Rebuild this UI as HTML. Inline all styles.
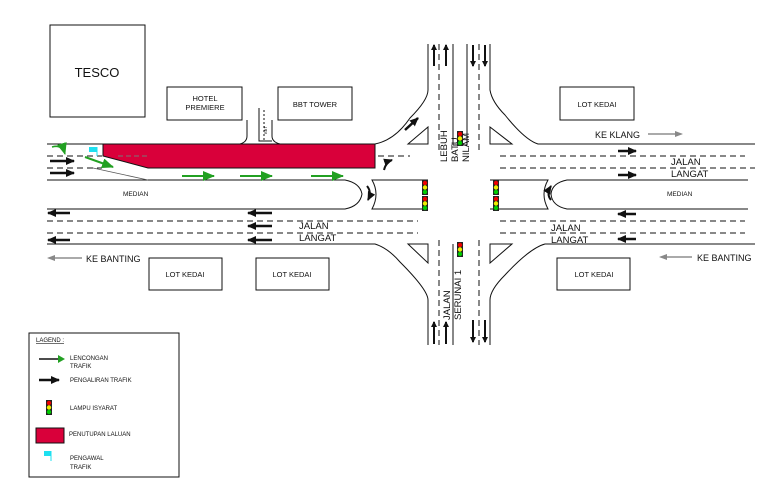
<!DOCTYPE html>
<html><head><meta charset="utf-8"><style>
html,body{margin:0;padding:0;background:#fff}
svg{display:block}
text{font-family:"Liberation Sans",sans-serif;fill:#111}
</style></head><body>
<svg width="765" height="483" viewBox="0 0 765 483" xmlns="http://www.w3.org/2000/svg">
<defs>
<marker id="bh" markerWidth="6" markerHeight="6" refX="5" refY="3" orient="auto" markerUnits="userSpaceOnUse"><path d="M0,0 L6,3 L0,6z" fill="#111"/></marker>
<marker id="gh" markerWidth="12" markerHeight="10" refX="11" refY="5" orient="auto" markerUnits="userSpaceOnUse"><path d="M0,0 L12,5 L0,10z" fill="#22a022"/></marker>
<marker id="bk" markerWidth="9" markerHeight="8" refX="8" refY="4" orient="auto" markerUnits="userSpaceOnUse"><path d="M0,0 L9,4 L0,8z" fill="#111"/></marker>
<marker id="th" markerWidth="8" markerHeight="6" refX="7" refY="3" orient="auto" markerUnits="userSpaceOnUse"><path d="M0,0 L8,3 L0,6z" fill="#888"/></marker>
<g id="tl"><rect x="0" y="0" width="6" height="15" fill="#222"/><circle cx="3" cy="3" r="2.2" fill="#e00"/><circle cx="3" cy="7.5" r="2.2" fill="#ee0"/><circle cx="3" cy="12" r="2.2" fill="#0c0"/></g>
</defs>
<g fill="none" stroke="#111" stroke-width="1">
<!-- buildings -->
<rect x="50" y="25" width="95" height="92"/>
<rect x="167" y="87" width="75" height="33"/>
<rect x="278" y="87" width="74" height="33"/>
<rect x="560" y="87" width="74" height="33"/>
<rect x="149" y="258" width="73" height="32"/>
<rect x="256" y="258" width="73" height="32"/>
<rect x="557" y="258" width="73" height="32"/>
<!-- main road edges -->
<path d="M47,144 H375 Q395,140 410,118 Q428,100 428,90 V44"/>
<path d="M490,44 V90 Q492,102 505,115 Q525,140 538,144 H755"/>
<path d="M47,244 H375 Q388,248 400,262 Q428,290 428,300 V345"/>
<path d="M490,345 V300 Q490,290 505,275 Q530,248 545,244 H755"/>
<!-- side road -->
<path d="M247,120 V136 Q247,142 240,144"/>
<path d="M272,120 V136 Q272,142 280,144"/>
<path d="M259,108 V141 H272"/>
<!-- medians -->
<path d="M47,180 H345 Q360,183 362,194 Q360,206 345,209 H47"/>
<path d="M428,180 H372 Q380,194 372,209 H428"/>
<path d="M490,180 H548 Q540,194 548,209 H490"/>
<path d="M748,180 H567 Q552,183 551,194 Q552,206 567,209 H748"/>
<!-- north road inner lines -->
<path d="M453,44 V145 M467,44 V145 M453,145 H467"/>
<path d="M453,244 V345"/>
<!-- islands -->
<path d="M408,144 L428,127 V144 Z"/>
<path d="M490,127 L512,144 H490 Z"/>
<path d="M408,244 H428 V263 Z"/>
<path d="M490,244 H512 L490,263 Z"/>
<!-- legend box -->
<rect x="29" y="333" width="150" height="144"/>
</g>
<!-- dashed lines -->
<g stroke="#111" stroke-width="1" stroke-dasharray="6,4" fill="none">
<path d="M47,156 H102 M47,168 H102 M378,156 H410"/>
<path d="M500,156 H745 M500,168 H755"/>
<path d="M47,221 H418 M47,233 H418"/>
<path d="M500,221 H745 M500,233 H745"/>
<path d="M439,44 V150 M479,44 V150 M439,240 V345 M479,240 V345"/>
<path d="M264,110 V140" stroke-dasharray="2,2"/>
</g>
<!-- red closure -->
<path d="M103,144 H375 V168 H148 L103,156 Z" fill="#d9003a" stroke="#111" stroke-width="1"/>
<path d="M118,156 H150" stroke="#777" stroke-dasharray="5,3"/>
<path d="M93,168 L148,180" stroke="#555" stroke-width="0.8"/>
<!-- flag -->
<rect x="89" y="147" width="8" height="5" fill="#1ee0f0"/><line x1="97" y1="147" x2="97" y2="156" stroke="#1ee0f0"/>
<!-- green arrows -->
<g stroke="#22a022" stroke-width="2" fill="none">
<path d="M182,176 H214" marker-end="url(#gh)"/>
<path d="M240,176 H272" marker-end="url(#gh)"/>
<path d="M311,176 H343" marker-end="url(#gh)"/>
<path d="M85,157 L113,167" marker-end="url(#gh)"/>
<path d="M52,147 Q62,144 65,154" marker-end="url(#gh)" stroke-width="1.5"/>
</g>
<!-- black arrows -->
<g stroke="#111" stroke-width="2.5" fill="none">
<path d="M50,161 H74" marker-end="url(#bk)"/>
<path d="M50,173 H74" marker-end="url(#bk)"/>
<path d="M70,213 H48" marker-end="url(#bk)"/>
<path d="M70,240 H48" marker-end="url(#bk)"/>
<path d="M272,213 H248" marker-end="url(#bk)"/>
<path d="M272,226 H248" marker-end="url(#bk)"/>
<path d="M272,240 H248" marker-end="url(#bk)"/>
<path d="M618,151 H636" marker-end="url(#bk)"/>
<path d="M618,175 H636" marker-end="url(#bk)"/>
<path d="M636,214 H618" marker-end="url(#bk)"/>
<path d="M636,239 H618" marker-end="url(#bk)"/>
<path d="M405,130 L418,118" marker-end="url(#bk)"/>
<path d="M384,170 Q386,162 392,160" marker-end="url(#bk)" stroke-width="2"/>
<path d="M367,186 Q372,192 368,200" marker-end="url(#bk)" stroke-width="2"/>
<path d="M551,200 Q546,194 551,186" marker-end="url(#bk)" stroke-width="2"/>
</g>
<g stroke="#111" stroke-width="2" fill="none">
<path d="M434,66 V45" marker-end="url(#bh)"/><path d="M446,66 V45" marker-end="url(#bh)"/>
<path d="M473,45 V66" marker-end="url(#bh)"/><path d="M485,45 V66" marker-end="url(#bh)"/>
<path d="M434,344 V322" marker-end="url(#bh)"/><path d="M446,344 V322" marker-end="url(#bh)"/>
<path d="M473,320 V342" marker-end="url(#bh)"/><path d="M485,320 V342" marker-end="url(#bh)"/>
</g>
<!-- thin direction arrows -->
<g stroke="#555" stroke-width="1" fill="none">
<path d="M648,134 H682" marker-end="url(#th)"/>
<path d="M82,258 H48" marker-end="url(#th)"/>
<path d="M692,257 H660" marker-end="url(#th)"/>
</g>
<!-- traffic lights -->
<use href="#tl" x="422" y="180"/><use href="#tl" x="422" y="196"/>
<use href="#tl" x="493" y="180"/><use href="#tl" x="493" y="196"/>
<use href="#tl" x="457" y="131"/><use href="#tl" x="457" y="242"/>
<!-- labels -->
<text x="97" y="77" font-size="13" text-anchor="middle">TESCO</text>
<text x="205" y="101" font-size="7.5" text-anchor="middle">HOTEL</text>
<text x="205" y="110" font-size="7.5" text-anchor="middle">PREMIERE</text>
<text x="315" y="107" font-size="7.5" text-anchor="middle">BBT TOWER</text>
<text x="597" y="107" font-size="7.5" text-anchor="middle">LOT KEDAI</text>
<text x="185" y="277" font-size="7.5" text-anchor="middle">LOT KEDAI</text>
<text x="292" y="277" font-size="7.5" text-anchor="middle">LOT KEDAI</text>
<text x="594" y="277" font-size="7.5" text-anchor="middle">LOT KEDAI</text>
<text x="595" y="138" font-size="9">KE KLANG</text>
<text x="86" y="262" font-size="9">KE BANTING</text>
<text x="697" y="261" font-size="9">KE BANTING</text>
<text x="671" y="165" font-size="9.5">JALAN</text>
<text x="671" y="177" font-size="9.5">LANGAT</text>
<text x="299" y="229" font-size="9.5">JALAN</text>
<text x="299" y="241" font-size="9.5">LANGAT</text>
<text x="551" y="231" font-size="9.5">JALAN</text>
<text x="551" y="243" font-size="9.5">LANGAT</text>
<text x="123" y="196" font-size="6.5" fill="#333">MEDIAN</text>
<text x="667" y="196" font-size="6.5" fill="#333">MEDIAN</text>
<text font-size="9.5" transform="translate(447,162) rotate(-90)">LEBUH</text>
<text font-size="9.5" transform="translate(458,162) rotate(-90)">BATU</text>
<text font-size="9.5" transform="translate(469,162) rotate(-90)">NILAM</text>
<text font-size="9.5" transform="translate(450,320) rotate(-90)">JALAN</text>
<text font-size="9.5" transform="translate(461,320) rotate(-90)">SERUNAI 1</text>
<text font-size="4" transform="translate(267,134) rotate(-90)">BBT</text>
<!-- legend -->
<text x="36" y="342" font-size="6" text-decoration="underline">LAGEND :</text>
<path d="M39,359 H58" stroke="#111" stroke-width="1.5"/><path d="M58,355 L65,359 L58,363z" fill="#22a022"/>
<text x="70" y="360" font-size="6">LENCONGAN</text><text x="70" y="368" font-size="6">TRAFIK</text>
<path d="M39,380 H59" stroke="#111" stroke-width="2.5" marker-end="url(#bk)"/>
<text x="70" y="382" font-size="6">PENGALIRAN TRAFIK</text>
<use href="#tl" x="46" y="400"/>
<text x="70" y="410" font-size="6">LAMPU ISYARAT</text>
<rect x="36" y="428" width="28" height="15" fill="#d9003a" stroke="#111"/>
<text x="69" y="436" font-size="6">PENUTUPAN LALUAN</text>
<rect x="44" y="451" width="7" height="5" fill="#1ee0f0"/><line x1="51" y1="451" x2="51" y2="461" stroke="#1ee0f0"/>
<text x="70" y="460" font-size="6">PENGAWAL</text><text x="70" y="469" font-size="6">TRAFIK</text>
</svg>
</body></html>
